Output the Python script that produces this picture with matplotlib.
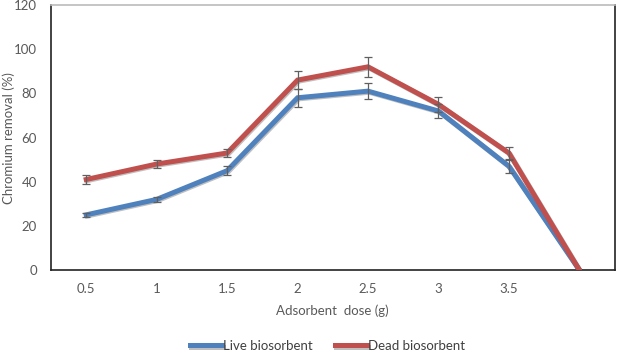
import matplotlib.pyplot as plt
import matplotlib.patheffects as pe
import numpy as np

dose = ['0.5', '1', '1.5', '2', '2.5', '3', '3.5', '']
live = [25, 32, 45, 78, 81, 72, 47, 0]
live_err = [1, 1.2, 2, 4, 3.5, 3, 3, 0]
dead = [41, 48, 53, 86, 92, 75, 53, 0]
dead_err = [2, 2, 2, 4, 4.5, 3.5, 2.5, 0]

plt.rcParams['font.family'] = ['Lato', 'DejaVu Sans']
txt = '#595959'
fs = 9.5

fig = plt.figure(figsize=(6.18, 3.54), dpi=100)
ax = fig.add_axes([0.0825, 0.237, 0.912, 0.749])

x = np.arange(len(dose))
shadow = [pe.SimpleLineShadow(offset=(0.8, -0.8), alpha=0.25), pe.Normal()]

for y, err, c, lab in [(live, live_err, '#4F81BD', 'Live biosorbent'),
                       (dead, dead_err, '#C0504D', 'Dead biosorbent')]:
    ax.plot(x, y, color=c, lw=3.6, label=lab, path_effects=shadow,
            solid_joinstyle='miter', zorder=3)
    ax.errorbar(x[:-1], y[:-1], yerr=err[:-1], fmt='none', ecolor='#606060',
                elinewidth=0.9, capsize=3, capthick=0.9, zorder=4)

ax.set_xlim(-0.5, 7.5)
ax.set_ylim(0, 120)
ax.set_yticks(range(0, 121, 20))
ax.set_xticks(x)
ax.set_xticklabels(dose)
ax.tick_params(length=0, labelsize=fs, colors=txt, pad=9)
ax.tick_params(axis='y', pad=10)
for s in ax.spines.values():
    s.set_color('#222222')
    s.set_linewidth(1.2)
ax.spines['top'].set_color('#bbbbbb')

ax.set_xlabel('Adsorbent  dose (g)', fontsize=fs, color=txt, labelpad=7)
fig.text(0.014, 0.61, 'Chromium removal (%)', rotation=90, fontsize=fs,
         color=txt, ha='center', va='center')

fig.legend(loc='lower center', bbox_to_anchor=(0.53, -0.028), ncol=2,
           frameon=False, fontsize=fs, labelcolor='#404040',
           handlelength=2.4, handletextpad=0.1, columnspacing=1.7)

fig.savefig('out.png', dpi=100)
